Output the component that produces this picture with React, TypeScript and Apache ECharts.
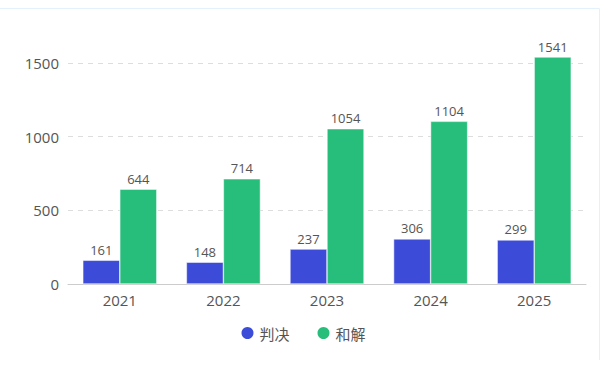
import React, { useEffect, useRef } from "react";
import * as echarts from "echarts";

const years = ["2021", "2022", "2023", "2024", "2025"];
const judgement = [161, 148, 237, 306, 299];
const settlement = [644, 714, 1054, 1104, 1541];
const seriesNames = ["判决", "和解"];

export default function App() {
  const ref = useRef<HTMLDivElement>(null);
  useEffect(() => {
    if (!ref.current) return;
    const chart = echarts.init(ref.current, null, { renderer: "svg" });
    const font = "'Open Sans', 'Noto Sans CJK SC', sans-serif";
    chart.setOption({
      animation: false,
      textStyle: { fontFamily: font },
      graphic: [
        {
          type: "polyline",
          shape: { points: [[-2, 8.5], [599.5, 8.5], [599.5, 360]] },
          style: { fill: "none", stroke: "#e2f1fb", lineWidth: 1 },
          silent: true,
        },
      ],
      grid: { left: 68, right: 19, top: 57, bottom: 85 },
      legend: {
        bottom: 23,
        left: "center",
        icon: "circle",
        itemWidth: 14,
        itemHeight: 14,
        itemGap: 26,
        textStyle: { fontSize: 15, color: "#555", fontFamily: "'Noto Sans CJK SC', sans-serif" },
        data: seriesNames,
      },
      xAxis: {
        type: "category",
        data: years,
        axisTick: { alignWithLabel: true, length: 5, lineStyle: { color: "#ccc" } },
        axisLine: { lineStyle: { color: "#ccc" } },
        axisLabel: { fontSize: 15, color: "#555", margin: 8, fontFamily: font },
      },
      yAxis: {
        type: "value",
        min: 0,
        max: "dataMax",
        interval: 500,
        axisLabel: {
          fontSize: 15,
          color: "#555",
          margin: 9,
          fontFamily: font,
          showMaxLabel: false,
          formatter: (v: number) => String(v),
        },
        splitLine: { showMaxLine: false, lineStyle: { type: [5, 5], color: "#ddd" } },
        axisLine: { show: false },
        axisTick: { show: false },
      },
      series: [
        {
          name: seriesNames[0],
          type: "bar",
          data: judgement,
          barWidth: 37,
          barGap: "0%",
          itemStyle: { color: "#3d4cd8", borderColor: "#ffffff", borderWidth: 0.5 },
          label: { show: true, position: "top", fontSize: 13, color: "#555", distance: 4, fontFamily: font },
        },
        {
          name: seriesNames[1],
          type: "bar",
          data: settlement,
          barWidth: 37,
          barGap: "0%",
          itemStyle: { color: "#27be7c", borderColor: "#ffffff", borderWidth: 0.5 },
          label: { show: true, position: "top", fontSize: 13, color: "#555", distance: 4, fontFamily: font },
        },
      ],
    });
    return () => chart.dispose();
  }, []);
  return (
    <div
      ref={ref}
      style={{ position: "fixed", left: 0, top: 0, width: 605, height: 369, background: "#fff" }}
    />
  );
}
